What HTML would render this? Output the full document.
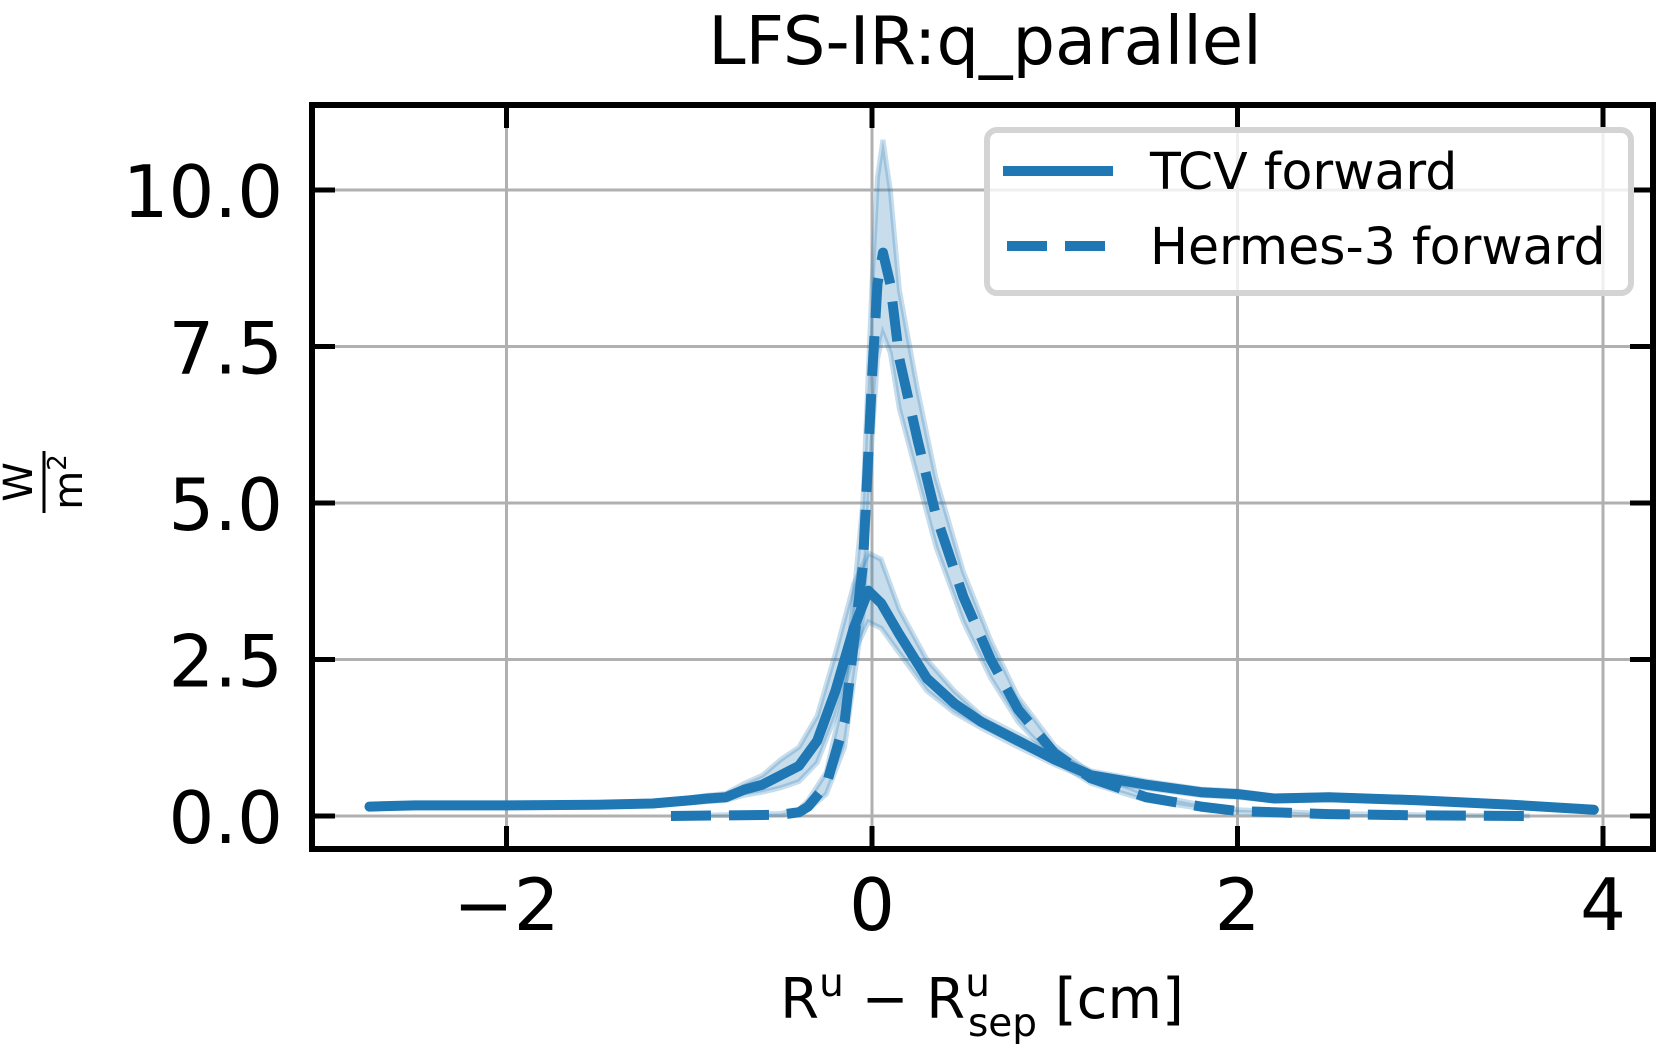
<!DOCTYPE html>
<html><head><meta charset="utf-8"><style>
html,body{margin:0;padding:0;background:#fff;}
svg{display:block;font-family:"DejaVu Sans","Liberation Sans",sans-serif;}
</style></head><body>
<svg id="chart" width="1661" height="1049" viewBox="0 0 1661 1049">
<g id="grid"></g>
<g id="series"></g>
<g id="axes"></g>
<text x="985" y="64" font-size="67" text-anchor="middle">LFS-IR:q_parallel</text>
<text x="982" y="1018" font-size="56" text-anchor="middle">R<tspan font-size="39" dy="-22">u</tspan><tspan dy="22"> − R</tspan><tspan font-size="39" dy="-22">u</tspan><tspan font-size="39" dx="-22" dy="40">sep</tspan><tspan dy="-18"> [cm]</tspan></text>
<g transform="translate(44,482) rotate(-90)">
<text x="0" y="-12" font-size="40" text-anchor="middle">W</text>
<line x1="-31" y1="0" x2="31" y2="0" stroke="#000" stroke-width="3"/>
<text x="0" y="38" font-size="40" text-anchor="middle">m<tspan font-size="26" dy="-16">2</tspan></text>
</g>
<g>
<rect x="987" y="130" width="644" height="163" rx="10" fill="#fff" fill-opacity="0.8" stroke="#d4d4d4" stroke-width="6"/>
<line x1="1003" y1="171" x2="1113" y2="171" stroke="#1f77b4" stroke-width="10"/>
<text x="1150" y="189" font-size="50.5">TCV forward</text>
<line x1="1007" y1="246" x2="1113" y2="246" stroke="#1f77b4" stroke-width="10" stroke-dasharray="40,18"/>
<text x="1150" y="264" font-size="50.5">Hermes-3 forward</text>
</g>
</svg>
<script>
const tcvX=[-2.75,-2.5,-2.0,-1.5,-1.2,-1.0,-0.9,-0.8,-0.7,-0.6,-0.5,-0.4,-0.3,-0.2,-0.1,-0.02,0.05,0.15,0.3,0.45,0.6,0.8,1.0,1.2,1.5,1.8,2.0,2.2,2.5,3.0,3.5,3.95];
const tcvY=[0.15,0.17,0.17,0.18,0.2,0.25,0.28,0.3,0.42,0.5,0.65,0.8,1.2,2.0,3.0,3.6,3.4,2.9,2.2,1.8,1.5,1.2,0.9,0.65,0.5,0.38,0.35,0.28,0.3,0.25,0.18,0.1];
const tcvLo=[0.12,0.14,0.14,0.15,0.17,0.21,0.23,0.25,0.33,0.38,0.45,0.55,0.85,1.6,2.6,3.1,3.0,2.6,2.0,1.65,1.4,1.1,0.82,0.58,0.44,0.33,0.3,0.24,0.26,0.22,0.15,0.08];
const tcvHi=[0.18,0.2,0.2,0.21,0.23,0.29,0.33,0.36,0.52,0.65,0.9,1.1,1.6,2.6,3.7,4.2,4.1,3.3,2.5,2.0,1.6,1.3,0.98,0.72,0.56,0.43,0.4,0.32,0.34,0.28,0.21,0.12];
const hmX=[-1.1,-0.8,-0.5,-0.4,-0.35,-0.25,-0.15,-0.05,0.0,0.03,0.06,0.1,0.15,0.25,0.35,0.5,0.65,0.8,1.0,1.2,1.5,1.8,2.0,2.5,3.0,3.6];
const hmY=[0.0,0.01,0.02,0.06,0.15,0.5,1.5,4.0,7.0,8.5,9.0,8.5,7.3,6.0,4.8,3.5,2.5,1.7,1.0,0.6,0.3,0.15,0.08,0.03,0.01,0.0];
const hmLo=[0.0,0.01,0.02,0.04,0.1,0.35,1.1,3.2,6.0,7.3,7.7,7.4,6.5,5.4,4.3,3.1,2.2,1.5,0.88,0.52,0.25,0.12,0.06,0.02,0.01,0.0];
const hmHi=[0.0,0.02,0.04,0.1,0.25,0.7,2.0,5.0,8.5,10.2,10.8,10.0,8.4,6.8,5.4,3.9,2.8,1.9,1.12,0.68,0.35,0.18,0.1,0.04,0.02,0.0];
const xTicks=[-2,0,2,4];
const yTicks=[0,2.5,5,7.5,10];
const yTickLabels=["0.0","2.5","5.0","7.5","10.0"];

const L=312,R=1653,T=105,B=849;
const sx=v=>872+v*182.75;
const sy=v=>816-v*62.6;
const NS="http://www.w3.org/2000/svg";
function mk(tag,attrs,parent){const e=document.createElementNS(NS,tag);for(const k in attrs)e.setAttribute(k,attrs[k]);parent.appendChild(e);return e;}
const grid=document.getElementById('grid'),series=document.getElementById('series'),axes=document.getElementById('axes');
xTicks.forEach(v=>{
  const g=mk('line',{x1:sx(v),x2:sx(v),y1:T,y2:B,stroke:'#b0b0b0','stroke-width':3},grid);
  
  
});
yTicks.forEach(v=>{
  const g=mk('line',{x1:L,x2:R,y1:sy(v),y2:sy(v),stroke:'#b0b0b0','stroke-width':3},grid);
  
  
});
function band(xs,lo,hi,name){
  let d='M'+xs.map((x,i)=>sx(x)+','+sy(hi[i])).join('L');
  for(let i=xs.length-1;i>=0;i--)d+='L'+sx(xs[i])+','+sy(lo[i]);
  const p=mk('path',{d:d+'Z',fill:'#1f77b4','fill-opacity':0.25,stroke:'#1f77b4','stroke-opacity':0.25,'stroke-width':5},series);
  
  
}
function line(xs,ys,name,dash){
  const a={points:xs.map((x,i)=>sx(x)+','+sy(ys[i])).join(' '),fill:'none',stroke:'#1f77b4','stroke-width':10,'stroke-linejoin':'round'};
  if(dash)a['stroke-dasharray']='40,18';else a['stroke-linecap']='round';
  const p=mk('polyline',a,series);
  
  
}
band(tcvX,tcvLo,tcvHi,'tcv-band');
band(hmX,hmLo,hmHi,'hermes-band');
line(tcvX,tcvY,'tcv-line',false);
line(hmX,hmY,'hermes-line',true);
const fr=mk('rect',{x:L,y:T,width:R-L,height:B-T,fill:'none',stroke:'#000','stroke-width':6},axes);


xTicks.forEach(v=>{
  const x=sx(v);
  mk('line',{x1:x,x2:x,y1:B,y2:B-23,stroke:'#000','stroke-width':5},axes);
  mk('line',{x1:x,x2:x,y1:T,y2:T+23,stroke:'#000','stroke-width':5},axes);
  const t=mk('text',{x:x,y:930,'font-size':72,'text-anchor':'middle'},axes);
  t.textContent=v<0?'−'+Math.abs(v):String(v);
  
  
});
yTicks.forEach((v,i)=>{
  const y=sy(v);
  mk('line',{x1:L,x2:L+23,y1:y,y2:y,stroke:'#000','stroke-width':5},axes);
  mk('line',{x1:R,x2:R-23,y1:y,y2:y,stroke:'#000','stroke-width':5},axes);
  const t=mk('text',{x:283,y:y+27,'font-size':72,'text-anchor':'end'},axes);
  t.textContent=yTickLabels[i];
  
  
});
</script>
</body></html>
